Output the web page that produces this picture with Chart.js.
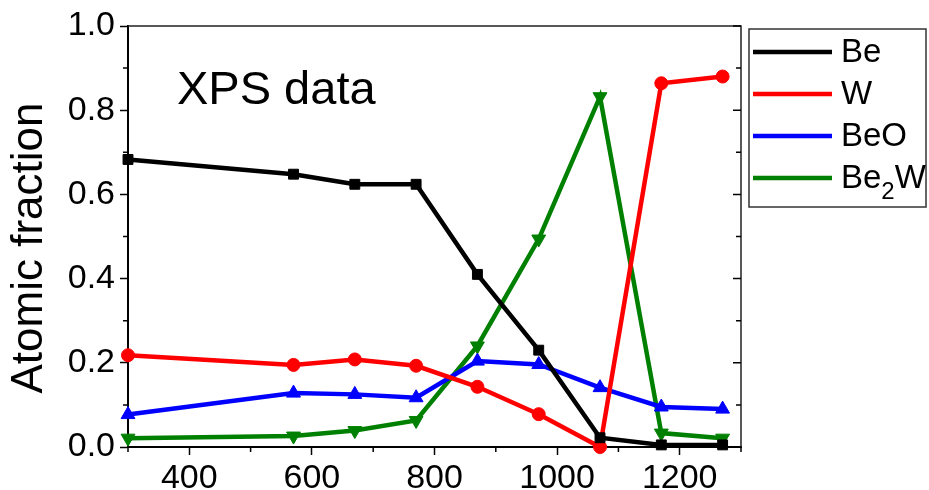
<!DOCTYPE html>
<html>
<head>
<meta charset="utf-8">
<script src="https://cdn.jsdelivr.net/npm/chart.js@4/dist/chart.umd.min.js"></script>
<style>
	html, body { margin: 0; padding: 0; background: #fff; }
	#wrap { width: 929px; height: 490px; position: relative; }
</style>
</head>
<body>
<div id="wrap"><canvas id="xps-plot"></canvas></div>
<script>

// sample positions (x) and atomic fractions per phase
const xValues = [300, 570, 670, 770, 870, 970, 1070, 1170, 1270];
const beValues = [0.683, 0.648, 0.624, 0.624, 0.41, 0.23, 0.022, 0.005, 0.005];
const wValues = [0.218, 0.195, 0.208, 0.193, 0.143, 0.078, 0.0, 0.864, 0.880];
const beoValues = [0.077, 0.128, 0.125, 0.117, 0.204, 0.196, 0.141, 0.095, 0.09];
const be2wValues = [0.021, 0.026, 0.039, 0.063, 0.24, 0.494, 0.832, 0.033, 0.021];

const seriesLabels = ['Be', 'W', 'BeO', 'Be2W'];
const xTicks = [400, 600, 800, 1000, 1200];
const xMinorTicks = [300, 500, 700, 900, 1100, 1300];
const yTicks = [0, 0.2, 0.4, 0.6, 0.8, 1.0];
const yMinorTicks = [0.1, 0.3, 0.5, 0.7, 0.9];

const FONT = '"Liberation Sans", Arial, sans-serif';

const toPoints = ( ys ) => ys.map( ( y, i ) => ( { x: xValues[ i ], y: y } ) );

const makeSet = ( label, ys, color, style, radius, rotation ) => ( {
	label: label,
	data: toPoints( ys ),
	borderColor: color,
	backgroundColor: color,
	borderWidth: 4.5,
	pointStyle: style,
	pointRadius: radius,
	pointHoverRadius: radius,
	pointRotation: rotation || 0,
	pointBorderWidth: 1,
	tension: 0,
	clip: false
} );

/* frame, minor ticks, axis title and legend */
const decorations = {
	id: 'decorations',
	afterDraw( chart ) {
		const ctx = chart.ctx;
		const a = chart.chartArea;
		const xs = chart.scales.x, ys = chart.scales.y;
		ctx.save();

		// top + right frame
		ctx.strokeStyle = '#222';
		ctx.lineWidth = 1.5;
		ctx.beginPath();
		ctx.moveTo( a.left, a.top );
		ctx.lineTo( a.right, a.top );
		ctx.lineTo( a.right, a.bottom );
		ctx.stroke();

		// minor x ticks
		ctx.strokeStyle = '#000';
		ctx.beginPath();
		for ( const v of xMinorTicks ) {
			const px = xs.getPixelForValue( v );
			ctx.moveTo( px, a.bottom );
			ctx.lineTo( px, a.bottom + 5 );
		}
		// minor y ticks (left, outward)
		for ( const v of yMinorTicks ) {
			const py = ys.getPixelForValue( v );
			ctx.moveTo( a.left, py );
			ctx.lineTo( a.left - 5, py );
		}
		// right side ticks, inward
		for ( const v of yTicks.concat( yMinorTicks ) ) {
			const py = ys.getPixelForValue( v );
			const len = yTicks.includes( v ) ? 8 : 5;
			ctx.moveTo( a.right, py );
			ctx.lineTo( a.right - len, py );
		}
		ctx.stroke();

		// y axis title
		ctx.fillStyle = '#000';
		ctx.save();
		ctx.translate( 30, 248 );
		ctx.rotate( -Math.PI / 2 );
		ctx.font = '44px ' + FONT;
		ctx.textAlign = 'center';
		ctx.textBaseline = 'middle';
		ctx.fillText( 'Atomic fraction', 0, 0 );
		ctx.restore();

		// inset text
		ctx.font = '47px ' + FONT;
		ctx.textBaseline = 'alphabetic';
		ctx.textAlign = 'left';
		ctx.fillText( 'XPS data', 177, 104 );

		// legend box
		const bx = 749, by = 29, bw = 177, bh = 178;
		ctx.strokeStyle = '#333';
		ctx.lineWidth = 1.5;
		ctx.strokeRect( bx, by, bw, bh );

		chart.data.datasets.forEach( ( ds, i ) => {
			const yRow = 52 + i * 42;
			ctx.strokeStyle = ds.borderColor;
			ctx.lineWidth = 4.5;
			ctx.beginPath();
			ctx.moveTo( 753, yRow );
			ctx.lineTo( 832, yRow );
			ctx.stroke();
			Chart.helpers.drawPoint( ctx, {
				pointStyle: ds.pointStyle,
				rotation: ds.pointRotation,
				borderWidth: 1
			}, 792, yRow, ds.pointRadius + 1.5 );
			ctx.fillStyle = ds.borderColor;
			ctx.fill();

			// label with subscript digits
			ctx.fillStyle = '#000';
			ctx.textBaseline = 'middle';
			let tx = 841;
			for ( const part of ds.label.split( /(\d+)/ ) ) {
				if ( !part ) continue;
				if ( /^\d+$/.test( part ) ) {
					ctx.font = '24px ' + FONT;
					ctx.fillText( part, tx, yRow + 14 );
				} else {
					ctx.font = '33px ' + FONT;
					ctx.fillText( part, tx, yRow + 1 );
				}
				tx += ctx.measureText( part ).width;
			}
		} );

		ctx.restore();
	}
};

const xpsData = {
	datasets: [
		makeSet( seriesLabels[ 0 ], beValues, '#000000', 'rect', 7 ),
		makeSet( seriesLabels[ 1 ], wValues, '#ff0000', 'circle', 6.5 ),
		makeSet( seriesLabels[ 2 ], beoValues, '#0000ff', 'triangle', 8 ),
		makeSet( seriesLabels[ 3 ], be2wValues, '#008000', 'triangle', 8, 180 )
	]
};

const xpsConfig = {
	type: 'line',
	data: xpsData,
	plugins: [ decorations ],
	options: {
		responsive: true,
		maintainAspectRatio: false,
		animation: false,
		layout: {
			padding: { left: 0, top: 26, right: 188, bottom: 0 }
		},
		plugins: {
			legend: { display: false },
			tooltip: { enabled: false }
		},
		scales: {
			x: {
				type: 'linear',
				min: 300,
				max: 1300,
				afterBuildTicks: ( scale ) => { scale.ticks = xTicks.map( v => ( { value: v } ) ); },
				afterFit: ( scale ) => { scale.height = 43; },
				border: { display: true, color: '#000', width: 2 },
				grid: { drawOnChartArea: false, color: '#000', tickLength: 8, tickWidth: 1.5 },
				ticks: {
					color: '#000',
					padding: 3,
					maxRotation: 0,
					font: { family: FONT, size: 34 },
					callback: ( v ) => String( v )
				}
			},
			y: {
				min: 0,
				max: 1,
				afterBuildTicks: ( scale ) => { scale.ticks = yTicks.map( v => ( { value: v } ) ); },
				afterFit: ( scale ) => { scale.width = 128; },
				border: { display: true, color: '#000', width: 2 },
				grid: { drawOnChartArea: false, color: '#000', tickLength: 8, tickWidth: 1.5 },
				ticks: {
					color: '#000',
					padding: 5,
					font: { family: FONT, size: 34 },
					callback: ( v ) => v.toFixed( 1 )
				}
			}
		}
	}
};

const xpsChart = new Chart( document.getElementById( 'xps-plot' ), xpsConfig );

</script>
</body>
</html>
